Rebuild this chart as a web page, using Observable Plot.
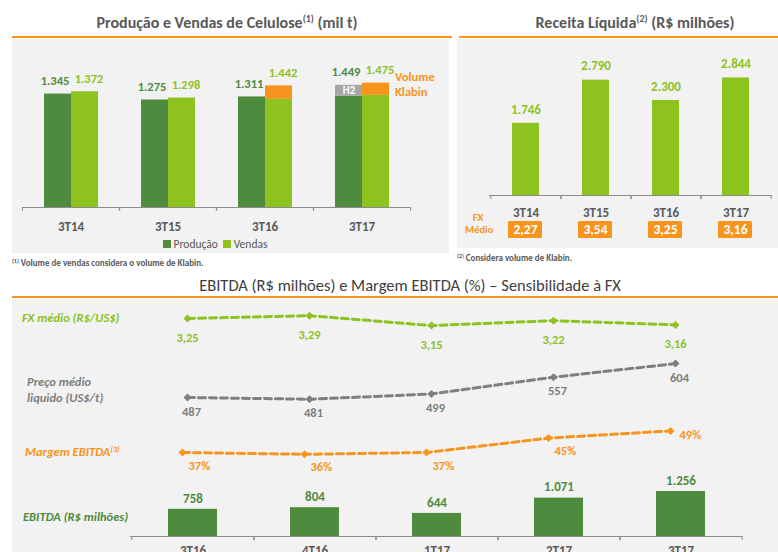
<!DOCTYPE html>
<html><head><meta charset="utf-8">
<script src="https://cdn.jsdelivr.net/npm/d3@7"></script>
<script src="https://cdn.jsdelivr.net/npm/@observablehq/plot@0.6"></script>
<style>
html,body{margin:0;padding:0;background:#fff;}
#root{position:relative;width:778px;height:552px;overflow:hidden;font-family:Carlito,Calibri,Lato,sans-serif;}
.abs{position:absolute;white-space:nowrap;line-height:1;}
.panel{position:absolute;background:#f2f2f2;}
.oline{position:absolute;height:2px;background:#F7941D;}
.title{position:absolute;white-space:nowrap;line-height:1;transform:translate(-50%,-50%);font-weight:bold;color:#595959;font-size:16px;}
.title sup{font-size:10px;vertical-align:6px;line-height:0;}
.row{position:absolute;white-space:nowrap;line-height:1;transform:translateY(-50%);font-style:italic;font-weight:bold;font-size:12.5px;}
.row sup{font-size:8px;vertical-align:4px;line-height:0;}
.foot{position:absolute;white-space:nowrap;line-height:1;transform:translateY(-50%);font-weight:bold;color:#595959;font-size:9px;}
.foot sup{font-size:6px;vertical-align:3px;line-height:0;}
.wrap{position:absolute;}
.wrap svg{max-width:none;}
</style>
</head><body>
<div id="root">
  <div class="panel" style="left:12px;top:39px;width:437px;height:214px"></div>
  <div class="panel" style="left:457px;top:39px;width:321px;height:209px"></div>
  <div class="panel" style="left:12px;top:299px;width:766px;height:253px"></div>
  <div class="oline" style="left:12px;top:36px;width:440px"></div>
  <div class="oline" style="left:459px;top:36px;width:319px"></div>
  <div class="oline" style="left:12px;top:296px;width:766px"></div>
  <div class="title" style="left:227px;top:23px">Produção e Vendas de Celulose<sup>(1)</sup> (mil t)</div>
  <div class="title" style="left:635px;top:23px">Receita Líquida<sup>(2)</sup> (R$ milhões)</div>
  <div class="title" style="left:410px;top:285px;font-weight:normal;color:#404040;font-size:16.5px">EBITDA (R$ milhões) e Margem EBITDA (%) – Sensibilidade à FX</div>
  <div class="foot" style="left:12px;top:262px"><sup>(1)</sup> Volume de vendas considera o volume de Klabin.</div>
  <div class="foot" style="left:457px;top:257px"><sup>(2)</sup> Considera volume de Klabin.</div>
  <div class="abs" style="left:395px;top:69px;color:#F7941D;font-weight:bold;font-size:12.5px;line-height:15px">Volume<br>Klabin</div>
  <div class="abs" style="left:163px;top:238px;font-size:11.5px;color:#595959;line-height:12px"><span style="display:inline-block;width:8px;height:8px;background:#4E8B3E"></span> Produção&nbsp;&nbsp;<span style="display:inline-block;width:8px;height:8px;background:#8DC21F"></span> Vendas</div>
  <div class="abs" style="left:465px;top:212px;width:26px;text-align:center;color:#F7941D;font-weight:bold;font-size:10.5px;line-height:12px">FX<br>Médio</div>
  <div class="row" style="left:22px;top:318px;color:#8DC21F">FX médio (R$/US$)</div>
  <div class="row" style="left:27px;top:390px;color:#7f7f7f;line-height:16px">Preço médio<br>liquido (US$/t)</div>
  <div class="row" style="left:25px;top:452px;color:#F7941D">Margem EBITDA<sup>(3)</sup></div>
  <div class="row" style="left:23px;top:517px;color:#4E8B3E">EBITDA (R$ milhões)</div>
</div>
<script>
// ---------- data ----------
const categoriasCelulose = ["3T14", "3T15", "3T16", "3T17"];
const producao = [1345, 1275, 1311, 1449];
const producaoH2 = [0, 0, 0, 130];
const vendas = [1372, 1298, 1442, 1475];
const vendasKlabin = [0, 0, 160, 145];

const categoriasReceita = ["3T14", "3T15", "3T16", "3T17"];
const receita = [1746, 2790, 2300, 2844];
const fxMedioReceita = [2.27, 3.54, 3.25, 3.16];

const trimestres = ["3T16", "4T16", "1T17", "2T17", "3T17"];
const fxMedio = [3.25, 3.29, 3.15, 3.22, 3.16];
const precoMedio = [487, 481, 499, 557, 604];
const margemEbitda = [37, 36, 37, 45, 49];
const ebitda = [758, 804, 644, 1071, 1256];

// ---------- styles ----------
const DKGREEN = "#4E8B3E", LTGREEN = "#8DC21F", ORANGE = "#F7941D", H2GRAY = "#A6A6A6";
const AXIS = "#8c8c8c", TEXT = "#595959", PGRAY = "#7f7f7f";
const FONT = "Carlito, Calibri, Lato, sans-serif";
const STYLE = {background: "transparent", fontFamily: FONT, overflow: "visible"};
const loc = d3.formatLocale({decimal: ",", thousands: ".", grouping: [3], currency: ["R$", ""]});
const fmtInt = loc.format(",d");
const fmt2 = loc.format(".2f");

const root = document.getElementById("root");
function mount(el, left, top, w, h) {
  const d = document.createElement("div");
  d.className = "wrap";
  d.style.left = left + "px"; d.style.top = top + "px";
  d.style.width = w + "px"; d.style.height = h + "px";
  d.appendChild(el);
  root.appendChild(d);
}

// ---------- Panel 1: Produção e Vendas ----------
{
  const W = 450, H = 270, ml = 21, mr = 40;
  const bw = (W - ml - mr) / categoriasCelulose.length;
  const rows = categoriasCelulose.flatMap((c, i) => [
    {cat: c, serie: "Produção", parte: "Produção", valor: producao[i] - producaoH2[i]},
    {cat: c, serie: "Produção", parte: "H2", valor: producaoH2[i]},
    {cat: c, serie: "Vendas", parte: "Vendas", valor: vendas[i] - vendasKlabin[i]},
    {cat: c, serie: "Vendas", parte: "Klabin", valor: vendasKlabin[i]}
  ]);
  const totP = categoriasCelulose.map((c, i) => ({cat: c, serie: "Produção", valor: producao[i]}));
  const totV = categoriasCelulose.map((c, i) => ({cat: c, serie: "Vendas", valor: vendas[i]}));
  const h2Rows = categoriasCelulose
    .map((c, i) => ({cat: c, serie: "Produção", base: producao[i] - producaoH2[i], h2: producaoH2[i]}))
    .filter(d => d.h2 > 0);
  const p = Plot.plot({
    width: W, height: H, marginLeft: ml, marginRight: mr, marginTop: 80.5, marginBottom: 63,
    style: STYLE,
    fx: {domain: categoriasCelulose, padding: 0, label: null},
    x: {domain: ["Produção", "Vendas"], axis: null, paddingInner: 0, paddingOuter: 0.78},
    y: {domain: [0, 1500], axis: null},
    color: {domain: ["Produção", "H2", "Vendas", "Klabin"], range: [DKGREEN, H2GRAY, LTGREEN, ORANGE]},
    marks: [
      Plot.barY(rows, {fx: "cat", x: "serie", y: "valor", fill: "parte"}),
      Plot.text(h2Rows, {fx: "cat", x: "serie", y: d => d.base + d.h2 / 2, text: () => "H2", fill: "white", fontWeight: "bold", fontSize: 11}),
      Plot.text(totP, {fx: "cat", x: "serie", y: "valor", text: d => fmtInt(d.valor), dx: -3, dy: -13, fill: DKGREEN, fontWeight: "bold", fontSize: 12.5}),
      Plot.text(totV, {fx: "cat", x: "serie", y: "valor", text: d => fmtInt(d.valor), dx: 4, dy: -13, fill: LTGREEN, fontWeight: "bold", fontSize: 12.5}),
      Plot.ruleY([0], {stroke: AXIS}),
      Plot.axisFx({anchor: "bottom", tickSize: 4, tickFormat: () => "", dx: -bw / 2, stroke: AXIS, label: null}),
      Plot.axisFx({anchor: "bottom", tickSize: 4, tickFormat: () => "", dx: bw / 2, stroke: AXIS, label: null}),
      Plot.axisFx({anchor: "bottom", tickSize: 0, tickPadding: 14, fontSize: 13, fontWeight: "bold", fill: TEXT, label: null})
    ]
  });
  mount(p, 0, 0, W, H);
}

// ---------- Panel 2: Receita Líquida ----------
{
  const W = 328, H = 270, ml = 39, mr = 7;
  const bw = (W - ml - mr) / categoriasReceita.length;
  const rows = categoriasReceita.map((c, i) => ({cat: c, valor: receita[i], fx: fxMedioReceita[i]}));
  const p = Plot.plot({
    width: W, height: H, marginLeft: ml, marginRight: mr, marginTop: 71, marginBottom: 75,
    style: STYLE,
    x: {domain: categoriasReceita, paddingInner: 0.617, paddingOuter: 0.3085, label: null},
    y: {domain: [0, 3000], axis: null},
    marks: [
      Plot.barY(rows, {x: "cat", y: "valor", fill: LTGREEN}),
      Plot.text(rows, {x: "cat", y: "valor", text: d => fmtInt(d.valor), dy: -14, fill: LTGREEN, fontWeight: "bold", fontSize: 13}),
      Plot.ruleY([0], {stroke: AXIS}),
      Plot.axisX({tickSize: 4, tickFormat: () => "", dx: -bw / 2, stroke: AXIS, label: null}),
      Plot.axisX({tickSize: 4, tickFormat: () => "", dx: bw / 2, stroke: AXIS, label: null}),
      Plot.axisX({tickSize: 0, tickPadding: 12, fontSize: 13, fontWeight: "bold", fill: TEXT, label: null})
    ]
  });
  mount(p, 450, 0, W, H);
  const q = Plot.plot({
    width: W, height: 17, marginLeft: ml, marginRight: mr, marginTop: 0, marginBottom: 0,
    style: STYLE,
    x: {domain: categoriasReceita, padding: 0, axis: null},
    marks: [
      Plot.cell(rows, {x: "cat", fill: ORANGE, insetLeft: 18, insetRight: 18, rx: 1.5}),
      Plot.text(rows, {x: "cat", text: d => fmt2(d.fx), fill: "white", fontWeight: "bold", fontSize: 13.5})
    ]
  });
  mount(q, 450, 221, W, 17);
}

// ---------- Panel 3: EBITDA / sensibilidade ----------
{
  const W = 778, H = 552, ml = 130, mr = 36;
  const bw = (W - ml - mr) / trimestres.length;
  const xOpt = {domain: trimestres, paddingInner: 0.6, paddingOuter: 0.3, axis: null};
  const fxRows = trimestres.map((t, i) => ({t, v: fxMedio[i]}));
  const prRows = trimestres.map((t, i) => ({t, v: precoMedio[i]}));
  const mgRows = trimestres.map((t, i) => ({t, v: margemEbitda[i]}));
  const ebRows = trimestres.map((t, i) => ({t, v: ebitda[i]}));
  const lineMarks = (rows, color, dx) => [
    Plot.line(rows, {x: "t", y: "v", stroke: color, strokeWidth: 3, strokeDasharray: "7,4", dx}),
    Plot.dot(rows, {x: "t", y: "v", symbol: "diamond2", r: 3.6, fill: color, dx})
  ];
  // FX médio
  mount(Plot.plot({
    width: W, height: H, marginLeft: ml, marginRight: mr, marginTop: 300.25, marginBottom: 216.25,
    style: STYLE, x: xOpt, y: {domain: [3.0, 3.5], axis: null},
    marks: [
      ...lineMarks(fxRows, LTGREEN, -5),
      Plot.text(fxRows, {x: "t", y: "v", text: d => fmt2(d.v), dx: -5, dy: 19, fill: LTGREEN, fontWeight: "bold", fontSize: 12.5})
    ]
  }), 0, 0, W, H);
  // Preço médio
  mount(Plot.plot({
    width: W, height: H, marginLeft: ml, marginRight: mr, marginTop: 335.23, marginBottom: 129.77,
    style: STYLE, x: xOpt, y: {domain: [400, 700], axis: null},
    marks: [
      ...lineMarks(prRows, PGRAY, -5),
      Plot.text(prRows, {x: "t", y: "v", text: d => fmtInt(d.v), dx: -1, dy: 14, fill: PGRAY, fontWeight: "bold", fontSize: 12.5})
    ]
  }), 0, 0, W, H);
  // Margem EBITDA
  mount(Plot.plot({
    width: W, height: H, marginLeft: ml, marginRight: mr, marginTop: 419.6, marginBottom: 87.4,
    style: STYLE, x: xOpt, y: {domain: [30, 55], axis: null},
    marks: [
      ...lineMarks(mgRows, ORANGE, -10),
      Plot.text(mgRows.slice(0, -1), {x: "t", y: "v", text: d => d.v + "%", dx: -4, dy: 13, textAnchor: "start", fill: ORANGE, fontWeight: "bold", fontSize: 12.5}),
      Plot.text(mgRows.slice(-1), {x: "t", y: "v", text: d => d.v + "%", dx: -1, dy: 4, textAnchor: "start", fill: ORANGE, fontWeight: "bold", fontSize: 12.5})
    ]
  }), 0, 0, W, H);
  // EBITDA bars
  mount(Plot.plot({
    width: W, height: H, marginLeft: ml, marginRight: mr, marginTop: 485.84, marginBottom: 16,
    style: STYLE, x: {...xOpt, axis: undefined, label: null}, y: {domain: [0, 1400], axis: null},
    marks: [
      Plot.barY(ebRows, {x: "t", y: "v", fill: DKGREEN}),
      Plot.text(ebRows, {x: "t", y: "v", text: d => fmtInt(d.v), dy: -11, fill: DKGREEN, fontWeight: "bold", fontSize: 13}),
      Plot.ruleY([0], {stroke: AXIS}),
      Plot.axisX({tickSize: 4, tickFormat: () => "", dx: -bw / 2, stroke: AXIS, label: null}),
      Plot.axisX({tickSize: 4, tickFormat: () => "", dx: bw / 2, stroke: AXIS, label: null}),
      Plot.axisX({tickSize: 0, tickPadding: 9, fontSize: 13, fontWeight: "bold", fill: TEXT, label: null})
    ]
  }), 0, 0, W, H);
}
</script>
</body></html>
